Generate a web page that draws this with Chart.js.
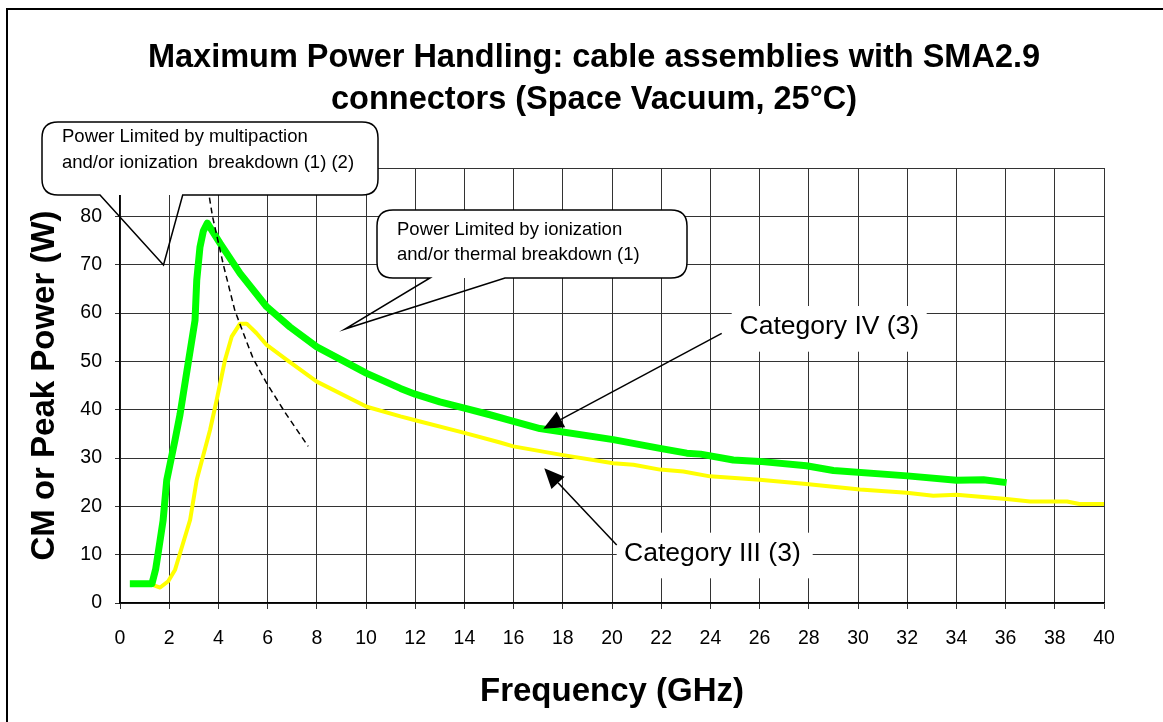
<!DOCTYPE html>
<html>
<head>
<meta charset="utf-8">
<script src="https://cdn.jsdelivr.net/npm/chart.js@4.4.0/dist/chart.umd.min.js"></script>
<style>
html,body{margin:0;padding:0;background:#fff;}
#wrap{width:1163px;height:722px;position:relative;overflow:hidden;}
</style>
</head>
<body>
<div id="wrap"><canvas id="c" width="1163" height="722"></canvas></div>
<script>
// ---------- data ----------
const titleLines = ['Maximum Power Handling: cable assemblies with SMA2.9', 'connectors (Space Vacuum, 25°C)'];
const xAxisTitle = 'Frequency (GHz)';
const yAxisTitle = 'CM or Peak Power (W)';
const xRange = [0, 40];
const xStep = 2;
const yRange = [0, 90];
const yStep = 10;

const seriesNames = ['Category IV (3)', 'Category III (3)', 'Breakdown limit'];

const freqCatIV  = [0.4, 1.3, 1.45, 1.55, 1.75, 1.9, 2.24, 2.44, 2.78, 3.05, 3.12, 3.25, 3.39, 3.55, 4.07, 4.88, 5.96, 6.91, 8.0, 10.03, 11.4, 12, 13, 14, 15, 16, 17.07, 20.05, 21.95, 23.04, 23.6, 24.93, 26.0, 27.9, 29.0, 32.0, 34.0, 35.1, 36.04];
const powerCatIV = [4, 4, 7, 10.3, 17, 25.4, 33.8, 39, 49.9, 58.5, 66.8, 73.6, 77, 78.6, 74.4, 68.2, 61.3, 57.1, 53, 47.5, 44.4, 43.2, 41.6, 40.3, 39.0, 37.6, 36.1, 33.8, 32, 31, 30.8, 29.6, 29.3, 28.4, 27.4, 26.3, 25.4, 25.5, 24.9];

const freqCatIII  = [1.3, 1.63, 1.96, 2.24, 2.44, 2.85, 3.12, 3.66, 3.93, 4.27, 4.54, 4.88, 5.15, 5.55, 5.96, 6.78, 8.0, 10.03, 11.4, 12, 14, 15.45, 15.99, 17.89, 20.05, 20.87, 21.95, 22.9, 23.98, 26.0, 27.9, 30.08, 31.98, 33.06, 34.0, 36.04, 37.0, 38.5, 39.0, 40.0];
const powerCatIII = [3.8, 3.2, 4.5, 6.9, 10.3, 17.2, 25.5, 35.8, 42, 50.3, 55.1, 57.8, 57.8, 55.8, 53.4, 50.3, 45.8, 40.6, 38.6, 37.8, 35.2, 33.2, 32.4, 30.7, 28.9, 28.6, 27.6, 27.2, 26.2, 25.5, 24.6, 23.5, 22.8, 22.2, 22.4, 21.5, 21, 21, 20.5, 20.5];

const freqLimit  = [3.45, 3.6, 3.76, 4.2, 4.67, 5.15, 5.42, 5.96, 6.7, 7.65];
const powerLimit = [90, 85, 80, 70, 60.5, 54, 50.5, 45.5, 39.5, 32.4];

const calloutTexts = [
  ['Power Limited by multipaction', 'and/or ionization  breakdown (1) (2)'],
  ['Power Limited by ionization', 'and/or thermal breakdown (1)']
];

// ---------- helpers ----------
const FONT = "'Liberation Sans', Arial, Helvetica, sans-serif";
const toXY = (xs, ys) => xs.map((x, i) => ({x: x, y: ys[i]}));

// decorations (pixel layout of annotations)
const decor = {
  callouts: [
    {box: [42, 122, 378, 195], tail: [[182.7, 195], [163.5, 265], [100, 195]], textX: 62, textY: [137, 163]},
    {box: [377, 210, 687, 278], tail: [[505, 278], [345, 329], [430, 278]], textX: 397, textY: [229.5, 255]}
  ],
  labels: [
    {text: seriesNames[0], box: [731.7, 306, 926.7, 351.7], tx: 739.5, ty: 327, from: [721.7, 333.3], to: [543.3, 428.8]},
    {text: seriesNames[1], box: [616.7, 532.7, 812.7, 578.3], tx: 624, ty: 554, from: [616.7, 545], to: [544.3, 468.3]}
  ]
};

function roundedCalloutPath(ctx, b, tail, r) {
  const [x0, y0, x1, y1] = b;
  ctx.beginPath();
  ctx.moveTo(tail[0][0], y1);
  ctx.lineTo(x1 - r, y1);
  ctx.quadraticCurveTo(x1, y1, x1, y1 - r);
  ctx.lineTo(x1, y0 + r);
  ctx.quadraticCurveTo(x1, y0, x1 - r, y0);
  ctx.lineTo(x0 + r, y0);
  ctx.quadraticCurveTo(x0, y0, x0, y0 + r);
  ctx.lineTo(x0, y1 - r);
  ctx.quadraticCurveTo(x0, y1, x0 + r, y1);
  ctx.lineTo(tail[2][0], y1);
  ctx.lineTo(tail[1][0], tail[1][1]);
  ctx.closePath();
}

function roundRect(ctx, b, r) {
  const [x0, y0, x1, y1] = b;
  ctx.beginPath();
  ctx.moveTo(x0 + r, y0);
  ctx.lineTo(x1 - r, y0);
  ctx.quadraticCurveTo(x1, y0, x1, y0 + r);
  ctx.lineTo(x1, y1 - r);
  ctx.quadraticCurveTo(x1, y1, x1 - r, y1);
  ctx.lineTo(x0 + r, y1);
  ctx.quadraticCurveTo(x0, y1, x0, y1 - r);
  ctx.lineTo(x0, y0 + r);
  ctx.quadraticCurveTo(x0, y0, x0 + r, y0);
  ctx.closePath();
}

function arrow(ctx, from, to) {
  const dx = to[0] - from[0], dy = to[1] - from[1];
  const len = Math.hypot(dx, dy);
  const ux = dx / len, uy = dy / len;
  const hl = 20, hw = 9;
  const bx = to[0] - ux * hl, by = to[1] - uy * hl;
  ctx.beginPath();
  ctx.moveTo(from[0], from[1]);
  ctx.lineTo(bx, by);
  ctx.lineWidth = 1.5;
  ctx.strokeStyle = '#000';
  ctx.stroke();
  ctx.beginPath();
  ctx.moveTo(to[0], to[1]);
  ctx.lineTo(bx - uy * hw, by + ux * hw);
  ctx.lineTo(bx + uy * hw, by - ux * hw);
  ctx.closePath();
  ctx.fillStyle = '#000';
  ctx.fill();
}

const decorPlugin = {
  id: 'decor',
  beforeDraw(chart) {
    const ctx = chart.ctx;
    ctx.save();
    ctx.fillStyle = '#fff';
    ctx.fillRect(0, 0, chart.width, chart.height);
    ctx.restore();
  },
  afterDraw(chart) {
    const ctx = chart.ctx;
    ctx.save();
    ctx.strokeStyle = '#000';
    ctx.lineWidth = 2;
    ctx.strokeRect(7, 9, 1300, 900);

    ctx.fillStyle = '#000';
    ctx.font = 'bold 32.5px ' + FONT;
    ctx.textAlign = 'center';
    ctx.textBaseline = 'middle';
    ctx.fillText(titleLines[0], 594, 58);
    ctx.fillText(titleLines[1], 594, 100);

    decor.callouts.forEach((c, i) => {
      roundRect(ctx, c.box, 16);
      ctx.fillStyle = '#fff';
      ctx.fill();
      roundedCalloutPath(ctx, c.box, c.tail, 16);
      ctx.lineWidth = 1.5;
      ctx.strokeStyle = '#000';
      ctx.stroke();
      ctx.fillStyle = '#000';
      ctx.font = '18.5px ' + FONT;
      ctx.textAlign = 'left';
      ctx.textBaseline = 'middle';
      calloutTexts[i].forEach((t, k) => ctx.fillText(t, c.textX, c.textY[k]));
    });

    decor.labels.forEach(l => {
      ctx.fillStyle = '#fff';
      ctx.fillRect(l.box[0], l.box[1], l.box[2] - l.box[0], l.box[3] - l.box[1]);
      ctx.fillStyle = '#000';
      ctx.font = '26.5px ' + FONT;
      ctx.textAlign = 'left';
      ctx.textBaseline = 'middle';
      ctx.fillText(l.text, l.tx, l.ty);
      arrow(ctx, l.from, l.to);
    });
    ctx.restore();
  }
};

Chart.defaults.font.family = FONT;
Chart.defaults.color = '#000';

new Chart(document.getElementById('c'), {
  type: 'line',
  data: {
    datasets: [
      {
        label: seriesNames[2],
        data: toXY(freqLimit, powerLimit),
        borderColor: '#000',
        borderWidth: 1.5,
        borderDash: [6, 4],
        pointRadius: 0,
        tension: 0,
        fill: false
      },
      {
        label: seriesNames[0],
        data: toXY(freqCatIV, powerCatIV),
        borderColor: '#00ff00',
        borderWidth: 7,
        pointRadius: 0,
        tension: 0,
        borderJoinStyle: 'round',
        fill: false
      },
      {
        label: seriesNames[1],
        data: toXY(freqCatIII, powerCatIII),
        borderColor: '#ffff00',
        borderWidth: 4,
        pointRadius: 0,
        tension: 0,
        borderJoinStyle: 'round',
        fill: false
      }
    ]
  },
  options: {
    responsive: false,
    devicePixelRatio: 1,
    animation: false,
    layout: {padding: {top: 168, right: 59, left: 0, bottom: 0}},
    plugins: {
      legend: {display: false},
      tooltip: {enabled: false},
      title: {display: false}
    },
    scales: {
      x: {
        type: 'linear',
        min: xRange[0],
        max: xRange[1],
        afterFit: s => { s.height = 119; },
        ticks: {stepSize: xStep, autoSkip: false, maxRotation: 0, padding: 18, color: '#000', font: {size: 19.5}},
        grid: {color: '#333', lineWidth: 1, tickLength: 6, drawTicks: true},
        border: {display: true, color: '#000', width: 1.5},
        title: {display: true, text: xAxisTitle, color: '#000', font: {size: 33, weight: 'bold'}, padding: {top: 0, bottom: 10}}
      },
      y: {
        type: 'linear',
        min: yRange[0],
        max: yRange[1],
        afterFit: s => { s.width = 120; },
        ticks: {stepSize: yStep, padding: 13, color: '#000', font: {size: 19.5}},
        grid: {color: '#333', lineWidth: 1, tickLength: 5, drawTicks: true},
        border: {display: true, color: '#000', width: 1.5},
        title: {display: true, text: yAxisTitle, color: '#000', font: {size: 33, weight: 'bold'}, padding: {top: 25, bottom: 0}}
      }
    }
  },
  plugins: [decorPlugin]
});
</script>
</body>
</html>
